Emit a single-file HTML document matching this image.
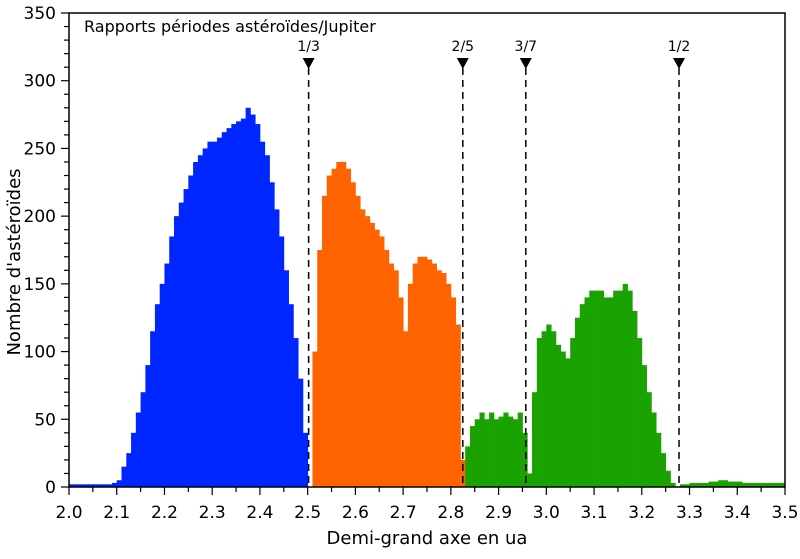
<!DOCTYPE html>
<html><head><meta charset="utf-8"><style>
body{margin:0;background:#fff}
svg text{font-family:"DejaVu Sans","Liberation Sans",sans-serif;fill:#000}
</style></head><body>
<svg id="c" width="800" height="554"></svg>
<script>
const binStart = 2.0, binWidth = 0.01;
const counts = [2,2,2,2,2,2,2,2,2,3,
5,15,25,40,55,70,90,115,135,150,
165,185,200,210,220,230,240,245,250,255,
255,258,262,265,268,270,272,280,275,268,
255,245,225,205,185,160,135,110,80,40,
0,100,175,215,230,235,240,240,235,225,
215,205,200,195,190,185,175,165,160,140,
115,150,165,170,170,168,165,160,158,150,
140,120,20,30,45,50,55,50,55,50,
52,55,52,50,55,40,10,70,110,115,
120,115,105,100,95,110,125,135,140,145,
145,145,140,140,145,145,150,145,130,110,
90,70,55,40,25,12,3,0,2,2,
3,3,3,3,4,4,5,5,4,4,
4,3,3,3,3,3,3,3,3,3];
const groupBounds = [2.5, 2.825];
const groupColors = ['#0026ff','#ff6300','#1aa300'];
const resonanceLabels = ['1/3','2/5','3/7','1/2'];
const resonancePos = [2.502, 2.825, 2.957, 3.278];
const xTicks = [2.0,2.1,2.2,2.3,2.4,2.5,2.6,2.7,2.8,2.9,3.0,3.1,3.2,3.3,3.4,3.5];
const yTicks = [0,50,100,150,200,250,300,350];

const X0=69,X1=785,Y0=487,Y1=13;
const sx=v=>X0+(v-2.0)/1.5*(X1-X0);
const sy=v=>Y0-v/350*(Y0-Y1);
const svg=document.getElementById('c');
const NS='http://www.w3.org/2000/svg';
function mk(t,a){const e=document.createElementNS(NS,t);for(const k in a)e.setAttribute(k,a[k]);svg.appendChild(e);return e;}

counts.forEach((c,i)=>{
  const x=binStart+i*binWidth;
  const col = x<groupBounds[0]?groupColors[0]:(x<groupBounds[1]?groupColors[1]:groupColors[2]);
  const r=mk('rect',{x:sx(x),y:sy(c),width:sx(x+binWidth)-sx(x)+0.4,height:Y0-sy(c),fill:col});
  
  
});

resonancePos.forEach((p,i)=>{
  const x=sx(p);
  const l=mk('line',{x1:x,y1:68,x2:x,y2:Y0,stroke:'#000','stroke-width':1.5,'stroke-dasharray':'7,5'});
  
  
  const t=mk('path',{d:`M${x-6},58 L${x+6},58 L${x},69 Z`,fill:'#000'});
  
  
  const tx=mk('text',{x:x,y:51,'text-anchor':'middle','font-size':14});
  tx.textContent=resonanceLabels[i];
  
  
});

const fr=mk('rect',{x:X0,y:Y1,width:X1-X0,height:Y0-Y1,fill:'none',stroke:'#000','stroke-width':1.5});



for(let v=2.0;v<=3.5001;v+=0.05){
  const x=sx(v),maj=Math.abs(v*10-Math.round(v*10))<0.01;
  const tk=mk('line',{x1:x,y1:Y0,x2:x,y2:Y0+(maj?8:5),stroke:'#000','stroke-width':1.2});
  
  
}
xTicks.forEach(v=>{
  const t=mk('text',{x:sx(v),y:518,'text-anchor':'middle','font-size':17});
  t.textContent=v.toFixed(1);
  
  
});
for(let v=0;v<=350;v+=10){
  const y=sy(v),maj=v%50===0;
  const tk=mk('line',{x1:X0-(maj?8:5),y1:y,x2:X0,y2:y,stroke:'#000','stroke-width':1.2});
  
  
}
yTicks.forEach(v=>{
  const t=mk('text',{x:56,y:sy(v)+6,'text-anchor':'end','font-size':17});
  t.textContent=v;
  
  
});

const ti=mk('text',{x:84,y:32,'font-size':16});
ti.textContent='Rapports périodes astéroïdes/Jupiter';


const xl=mk('text',{x:427,y:544,'text-anchor':'middle','font-size':18});
xl.textContent='Demi-grand axe en ua';


const yl=mk('text',{x:0,y:0,'text-anchor':'middle','font-size':18,transform:'translate(20,262) rotate(-90)'});
yl.textContent="Nombre d'astéroïdes";


</script>
</body></html>
